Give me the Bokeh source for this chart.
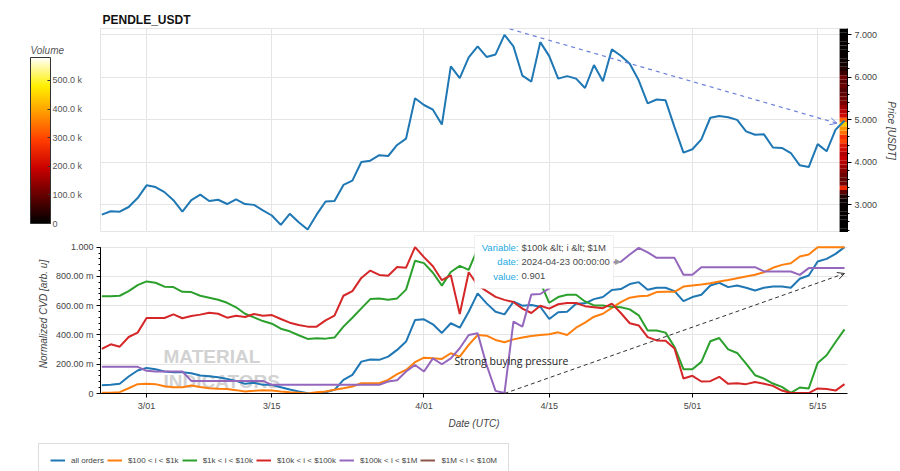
import numpy as np
import pandas as pd
from bokeh.plotting import figure
from bokeh.layouts import column
from bokeh.models import (Range1d, LinearColorMapper, ColorBar, FixedTicker, SingleIntervalTicker,
                          CustomJSTickFormatter, PrintfTickFormatter, Legend, LegendItem, Arrow,
                          OpenHead, Label, BoxAnnotation, ColumnDataSource)
from bokeh.embed import file_html
from bokeh.resources import INLINE
from bokeh.core.properties import value

# ---------------- data ----------------
dates = pd.date_range("2024-02-25", "2024-05-18", freq="D")

price = [2.77, 2.85, 2.84, 2.95, 3.16, 3.46, 3.42, 3.30, 3.11, 2.84,
         3.11, 3.24, 3.09, 3.12, 3.02, 3.13, 3.02, 3.00, 2.87, 2.75,
         2.53, 2.79, 2.59, 2.42, 2.77, 3.08, 3.09, 3.47, 3.57, 4.01,
         4.04, 4.17, 4.15, 4.41, 4.56, 5.51, 5.35, 5.24, 4.89, 6.26,
         5.98, 6.47, 6.73, 6.48, 6.54, 7.00, 6.73, 6.04, 5.90, 6.83,
         6.50, 5.97, 6.03, 5.97, 5.75, 6.29, 5.91, 6.66, 6.51, 6.32,
         5.93, 5.39, 5.48, 5.46, 4.83, 4.23, 4.31, 4.54, 5.05, 5.09,
         5.06, 5.00, 4.73, 4.65, 4.66, 4.35, 4.34, 4.22, 3.93, 3.89,
         4.43, 4.26, 4.77, 4.98]

cvd_all = [0.057, 0.059, 0.066, 0.116, 0.157, 0.175, 0.166, 0.150, 0.145, 0.145,
           0.139, 0.123, 0.118, 0.111, 0.100, 0.086, 0.066, 0.073, 0.059, 0.059,
           0.043, 0.027, 0.014, 0.002, 0.000, 0.009, 0.025, 0.093, 0.127, 0.218,
           0.232, 0.230, 0.252, 0.298, 0.355, 0.502, 0.507, 0.473, 0.414, 0.480,
           0.450, 0.559, 0.684, 0.616, 0.559, 0.541, 0.627, 0.600, 0.605, 0.593,
           0.509, 0.555, 0.559, 0.614, 0.616, 0.645, 0.660, 0.707, 0.714, 0.748,
           0.761, 0.709, 0.723, 0.723, 0.700, 0.631, 0.659, 0.675, 0.738, 0.757,
           0.727, 0.738, 0.723, 0.704, 0.723, 0.731, 0.731, 0.723, 0.784, 0.806,
           0.902, 0.920, 0.954, 1.000]

cvd_100_1k = [0.005, 0.005, 0.009, 0.036, 0.064, 0.066, 0.064, 0.050, 0.043, 0.043,
              0.055, 0.045, 0.036, 0.032, 0.030, 0.023, 0.014, 0.018, 0.023, 0.020,
              0.014, 0.009, 0.005, 0.000, 0.009, 0.014, 0.025, 0.036, 0.048, 0.070,
              0.070, 0.070, 0.093, 0.132, 0.161, 0.214, 0.245, 0.241, 0.236, 0.275,
              0.252, 0.332, 0.400, 0.395, 0.366, 0.350, 0.370, 0.382, 0.393, 0.400,
              0.405, 0.418, 0.400, 0.450, 0.484, 0.525, 0.545, 0.585, 0.625, 0.655,
              0.665, 0.668, 0.693, 0.695, 0.695, 0.731, 0.738, 0.745, 0.754, 0.765,
              0.776, 0.788, 0.800, 0.811, 0.829, 0.859, 0.879, 0.890, 0.936, 0.950,
              1.000, 1.000, 1.000, 1.000]

cvd_1k_10k = [0.664, 0.664, 0.668, 0.700, 0.741, 0.766, 0.757, 0.730, 0.727, 0.695,
              0.693, 0.668, 0.655, 0.641, 0.620, 0.589, 0.545, 0.520, 0.495, 0.477,
              0.443, 0.425, 0.398, 0.373, 0.377, 0.375, 0.382, 0.457, 0.518, 0.582,
              0.645, 0.650, 0.641, 0.650, 0.710, 0.907, 0.891, 0.825, 0.737, 0.830,
              0.872, 0.845, 0.990, 0.970, 0.960, 0.930, 0.900, 0.880, 0.860, 0.760,
              0.620, 0.659, 0.675, 0.675, 0.629, 0.602, 0.602, 0.593, 0.590, 0.575,
              0.534, 0.431, 0.431, 0.416, 0.318, 0.166, 0.166, 0.216, 0.357, 0.379,
              0.302, 0.277, 0.204, 0.125, 0.102, 0.068, 0.045, 0.004, 0.041, 0.034,
              0.209, 0.261, 0.352, 0.438]

cvd_10k_100k = [0.305, 0.336, 0.320, 0.386, 0.416, 0.516, 0.516, 0.516, 0.541, 0.514,
                0.530, 0.539, 0.552, 0.545, 0.518, 0.532, 0.523, 0.543, 0.532, 0.536,
                0.509, 0.484, 0.468, 0.457, 0.457, 0.500, 0.532, 0.668, 0.700, 0.790,
                0.840, 0.810, 0.805, 0.864, 0.860, 1.000, 0.932, 0.870, 0.774, 0.808,
                0.543, 0.829, 0.740, 0.700, 0.660, 0.640, 0.625, 0.580, 0.550, 0.600,
                0.580, 0.610, 0.618, 0.618, 0.597, 0.590, 0.583, 0.614, 0.550, 0.480,
                0.465, 0.385, 0.363, 0.360, 0.308, 0.103, 0.121, 0.082, 0.084, 0.114,
                0.066, 0.070, 0.064, 0.078, 0.067, 0.052, 0.020, 0.004, 0.003, 0.003,
                0.035, 0.031, 0.020, 0.064]

cvd_100k_1m = [0.182, 0.182, 0.182, 0.182, 0.182, 0.155, 0.150, 0.150, 0.150, 0.150,
               0.086, 0.086, 0.086, 0.086, 0.086, 0.086, 0.086, 0.086, 0.086, 0.059,
               0.059, 0.059, 0.059, 0.059, 0.059, 0.059, 0.059, 0.059, 0.059, 0.059,
               0.059, 0.059, 0.082, 0.090, 0.150, 0.195, 0.150, 0.240, 0.200, 0.240,
               0.309, 0.400, 0.411, 0.195, 0.018, 0.004, 0.491, 0.457, 0.677, 0.680,
               0.718, 0.780, 0.820, 0.850, 0.870, 0.880, 0.885, 0.895, 0.901, 0.950,
               0.995, 0.965, 0.927, 0.927, 0.927, 0.811, 0.811, 0.863, 0.863, 0.863,
               0.863, 0.863, 0.863, 0.863, 0.834, 0.834, 0.834, 0.834, 0.811, 0.857,
               0.857, 0.857, 0.857, 0.857]

cvd_1m_10m = []   # no data in this bracket

series_labels = ["all orders", "$100 < i < $1k", "$1k < i < $10k",
                 "$10k < i < $100k", "$100k < i < $1M", "$1M < i < $10M"]
series_colors = ["#1f77b4", "#ff7f0e", "#2ca02c", "#d62728", "#9467bd", "#8c564b"]

# volume profile (last day): price-bin centres and volume in thousands
vol_price = [2.4, 2.5, 2.6, 2.7, 2.8, 2.9, 3.0, 3.1, 3.2, 3.3, 3.4, 3.5,
             3.6, 3.7, 3.8, 3.9, 4.0, 4.1, 4.2, 4.3, 4.4, 4.5, 4.6, 4.7,
             4.8, 4.9, 5.0, 5.1, 5.2, 5.3, 5.4, 5.5, 5.6, 5.7, 5.8, 5.9,
             6.0, 6.1, 6.2, 6.3, 6.4, 6.5, 6.6, 6.7, 6.8, 6.9, 7.0, 7.1]
vol_k = [2, 2, 3, 4, 5, 6, 8, 12, 30, 90, 260, 120,
         95, 110, 130, 150, 175, 190, 170, 210, 230, 300, 270, 340,
         380, 440, 330, 210, 180, 150, 120, 110, 95, 80, 100, 85,
         110, 60, 35, 20, 12, 9, 8, 6, 6, 5, 4, 3]

tick_dates = ["2024-03-01", "2024-03-15", "2024-04-01", "2024-04-15", "2024-05-01", "2024-05-15"]
cbar_ticks = [0, 100000, 200000, 300000, 400000, 500000]

# ---------------- helpers ----------------
def ms(ts):
    return pd.Timestamp(ts).value / 1e6

tick_ms = [ms(d) for d in tick_dates]

# black -> red -> yellow -> white palette
anchors = [(0.00, (0, 0, 0)), (0.15, (90, 0, 0)), (0.33, (200, 0, 0)), (0.50, (255, 60, 0)),
           (0.66, (255, 150, 0)), (0.83, (255, 240, 0)), (1.00, (255, 255, 250))]
palette = []
for i in range(256):
    t = i / 255
    for (t0, c0), (t1, c1) in zip(anchors[:-1], anchors[1:]):
        if t0 <= t <= t1:
            f = (t - t0) / (t1 - t0)
            c = [int(round(a + (b - a) * f)) for a, b in zip(c0, c1)]
            palette.append("#%02x%02x%02x" % tuple(c))
            break

mapper = LinearColorMapper(palette=palette, low=0, high=580000)

xr = Range1d(pd.Timestamp("2024-02-24 20:24"), pd.Timestamp("2024-05-18 08:00"))

# ---------------- top figure ----------------
p1 = figure(width=900, height=232, x_axis_type="datetime", x_range=xr,
            y_range=Range1d(2.35, 7.15), y_axis_location="right",
            output_backend="svg", toolbar_location=None,
            min_border_left=100, min_border_right=52, min_border_top=28, min_border_bottom=0,
            title="PENDLE_USDT")
p1.title.text_font_size = "12px"
p1.title.text_font_style = "bold"
p1.title.text_color = "#111111"
p1.title.standoff = 4
p1.title.offset = 2
p1.xaxis.visible = False
p1.xaxis.ticker = FixedTicker(ticks=tick_ms)
p1.xgrid.ticker = FixedTicker(ticks=tick_ms)
p1.yaxis.ticker = SingleIntervalTicker(interval=1, num_minor_ticks=5)
p1.yaxis.formatter = PrintfTickFormatter(format="%.3f")
p1.yaxis.axis_label = "Price [USDT]"
p1.yaxis.axis_label_text_font_size = "10px"
p1.yaxis.axis_label_standoff = 6
p1.yaxis.major_label_text_font_size = "9px"
p1.yaxis.major_label_standoff = 3
p1.yaxis.major_tick_out = 4
p1.yaxis.major_tick_in = 0
p1.yaxis.minor_tick_out = 2

vsrc = ColumnDataSource(dict(x=[dates[-1]] * len(vol_price), y=vol_price,
                             vol=[v * 1000 for v in vol_k]))
p1.rect(x="x", y="y", width=1.1 * 86400000, height=0.1, source=vsrc,
        fill_color={"field": "vol", "transform": mapper}, line_color=None)
p1.line(dates, price, line_width=2, color="#1f77b4")

p1.add_layout(Arrow(end=OpenHead(size=7, line_color="#6b7fd9", line_width=1),
                    x_start=ms("2024-04-10 14:00"), y_start=7.14,
                    x_end=ms("2024-05-17 04:00"), y_end=4.92,
                    line_color="#6b7fd9", line_width=1.2, line_dash="4 4"))

cbar = ColorBar(color_mapper=mapper, ticker=FixedTicker(ticks=cbar_ticks),
                formatter=CustomJSTickFormatter(code="return tick == 0 ? '0' : (tick/1000).toFixed(1) + ' k';"),
                major_label_text_font_size="9px", major_label_text_color="#555555",
                width=20, height=166, padding=0, margin=0, location=(-70, 9),
                bar_line_color="#333333", major_tick_line_color="#333333",
                major_tick_in=3, label_standoff=2, background_fill_alpha=0)
p1.add_layout(cbar, "center")
# the colour bar title, set horizontally above the bar
cbar_title = ColorBar(color_mapper=mapper, orientation="horizontal", ticker=FixedTicker(ticks=[]),
                      title="Volume", title_text_font_style="italic", title_text_font_size="10px",
                      title_text_color="#555555", title_standoff=0,
                      width=40, height=1, padding=0, margin=0, location=(-70, 176),
                      scale_alpha=0, bar_line_alpha=0, major_tick_line_alpha=0,
                      major_label_text_alpha=0, label_standoff=0,
                      background_fill_alpha=0, border_line_alpha=0)
p1.add_layout(cbar_title, "center")

# ---------------- bottom figure ----------------
# frame top is raised a little so the hover box fits; axis & grid stop at 1.0
p2 = figure(width=900, height=203, x_axis_type="datetime", x_range=xr,
            y_range=Range1d(0, 1.0866), output_backend="svg", toolbar_location=None,
            min_border_left=100, min_border_right=52, min_border_top=2, min_border_bottom=42)
p2.outline_line_color = None
p2.xaxis.ticker = FixedTicker(ticks=tick_ms)
p2.xgrid.ticker = FixedTicker(ticks=tick_ms)
p2.xgrid.cross_bounds = (0, 1.0)
p2.xaxis.formatter = CustomJSTickFormatter(
    code="const d = new Date(tick); return (d.getUTCMonth()+1) + '/' + String(d.getUTCDate()).padStart(2,'0');")
p2.xaxis.axis_label = "Date (UTC)"
p2.yaxis.axis_label = "Normalized CVD [arb. u]"
p2.yaxis.ticker = SingleIntervalTicker(interval=0.2, num_minor_ticks=5)
p2.yaxis.bounds = (0, 1.0)
p2.yaxis.formatter = CustomJSTickFormatter(
    code="if (Math.abs(tick) < 1e-9) return '0'; if (Math.abs(tick-1) < 1e-9) return '1.000'; return (tick*1000).toFixed(2) + ' m';")
for ax in (p2.xaxis[0], p2.yaxis[0]):
    ax.axis_label_text_font_size = "10px"
    ax.axis_label_standoff = 4
    ax.major_label_text_font_size = "9px"
    ax.major_label_standoff = 3
    ax.major_tick_out = 4
    ax.major_tick_in = 0
    ax.minor_tick_out = 2

# watermark
for txt, yy in (("MATERIAL", 37), ("INDICATORS", 12)):
    p2.add_layout(Label(x=63, y=yy, x_units="screen", y_units="screen", text=txt,
                        text_font="Liberation Sans", text_font_style="bold", text_font_size="19px",
                        text_color="#d2d2d2", text_baseline="middle", level="underlay"))

all_series = [cvd_all, cvd_100_1k, cvd_1k_10k, cvd_10k_100k, cvd_100k_1m, cvd_1m_10m]
for vals, col in zip(all_series, series_colors):
    xs = list(dates[:len(vals)])
    p2.line(xs, vals, line_width=2, color=col)

p2.add_layout(Label(x=ms("2024-04-04 10:00"), y=0.177, text="Strong buying pressure",
                    text_font="Open Sans", text_font_size="10.5px", text_color="#222222"))
p2.add_layout(Arrow(end=OpenHead(size=7, line_color="#333333", line_width=1),
                    x_start=ms("2024-04-10 00:00"), y_start=0.0,
                    x_end=ms("2024-05-18 00:00"), y_end=0.82,
                    line_color="#333333", line_width=1, line_dash="4 3"))

# hover tooltip snapshot
p2.add_layout(BoxAnnotation(left=374, right=513, top=158, bottom=105,
                            left_units="screen", right_units="screen",
                            top_units="screen", bottom_units="screen",
                            fill_color="white", fill_alpha=1, line_color="#cfcfcf", line_width=1))
tt_names = ["Variable:", "date:", "value:"]
tt_vals = ["$100k &lt; i &lt; $1M", "2024-04-23 00:00:00", "0.901"]
for nm, vv, yy in zip(tt_names, tt_vals, (146.5, 132, 117.5)):
    p2.add_layout(Label(x=418, y=yy, x_units="screen", y_units="screen", text=nm,
                        text_align="right", text_baseline="middle", text_font_size="9.5px",
                        text_color="#26aae1"))
    p2.add_layout(Label(x=421, y=yy, x_units="screen", y_units="screen", text=vv,
                        text_align="left", text_baseline="middle", text_font_size="9.5px",
                        text_color="#4a4a4a"))
p2.add_layout(Label(x=517, y=132, x_units="screen", y_units="screen", text="\u25b6",
                    text_align="center", text_baseline="middle", text_font_size="8px",
                    text_color="#9a9a9a"))

# ---------------- legend strip ----------------
p3 = figure(width=900, height=36, x_range=Range1d(0, 1), y_range=Range1d(0, 1),
            output_backend="svg", toolbar_location=None, frame_align=False,
            min_border_left=0, min_border_right=0, min_border_top=0, min_border_bottom=0)
p3.axis.visible = False
p3.grid.visible = False
p3.outline_line_color = None
items = []
for lab, col in zip(series_labels, series_colors):
    r = p3.line(x=[np.nan], y=[np.nan], line_width=2, color=col)
    items.append(LegendItem(label=value(lab), renderers=[r]))
legend = Legend(items=items, orientation="horizontal", location=(38, -6),
                label_text_font_size="8px", label_text_color="#444444",
                glyph_width=15, glyph_height=10, label_standoff=6, spacing=3,
                padding=11, margin=0, border_line_color="#dddddd", border_line_alpha=1)
p3.add_layout(legend, "center")

layout = column(p1, p2, p3, spacing=0)
open("out.html", "w").write(file_html(layout, INLINE))
